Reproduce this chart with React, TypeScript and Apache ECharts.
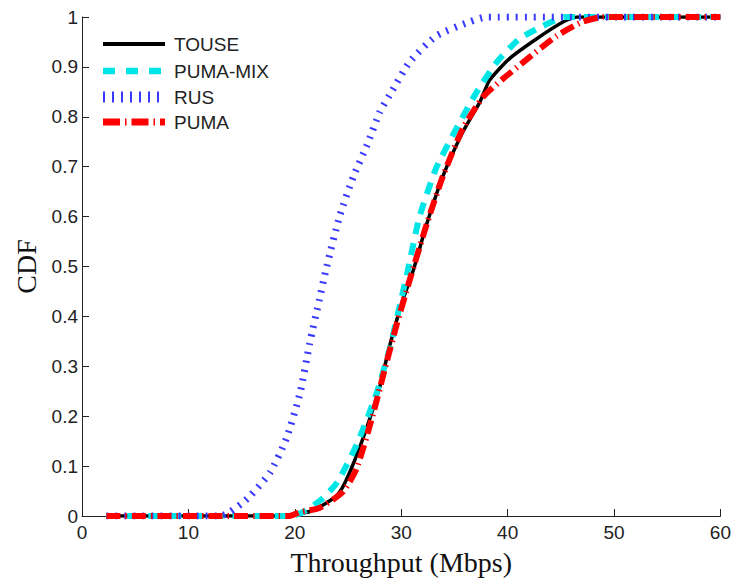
import React, { useEffect, useRef } from "react";
import * as echarts from "echarts";

const xTicks = [0, 10, 20, 30, 40, 50, 60];
const seriesNames = ["TOUSE", "PUMA-MIX", "RUS", "PUMA"];
const seriesColors = ["#000000", "#00e6e6", "#3a3aff", "#ff0000"];

const touse: [number, number][] = [
  [2.3, 0], [19, 0], [20.5, 0.005], [21.4, 0.009], [22.5, 0.02], [24.0, 0.042],
  [24.9, 0.075], [26.4, 0.155], [28.0, 0.26], [28.9, 0.34], [30.1, 0.43],
  [31.1, 0.49], [32.4, 0.585], [33.9, 0.68], [35.8, 0.77], [37.4, 0.83],
  [38.3, 0.873], [40.2, 0.917], [42.7, 0.956], [45.2, 0.99], [46.5, 1], [60, 1],
];

const pumaMix: [number, number][] = [
  [2.3, 0], [19.5, 0], [20.8, 0.008], [22.6, 0.035], [24.0, 0.068], [25.9, 0.147],
  [27.7, 0.247], [28.9, 0.334], [29.9, 0.425], [30.6, 0.49], [31.7, 0.598],
  [33.3, 0.698], [35.2, 0.777], [37.1, 0.85], [39.0, 0.91], [41.1, 0.956],
  [43.3, 0.982], [45.5, 1], [60, 1],
];

const rus: [number, number][] = [
  [2.3, 0], [13, 0], [13.9, 0.008], [15, 0.025], [15.8, 0.04], [17.7, 0.088],
  [19.2, 0.155], [20.5, 0.247], [21.4, 0.346], [22.3, 0.433], [23.0, 0.5],
  [24.2, 0.6], [25.5, 0.68], [26.8, 0.744], [28.0, 0.81], [28.9, 0.843],
  [30.8, 0.91], [33.3, 0.962], [36.4, 0.99], [38, 1], [60, 1],
];

const puma: [number, number][] = [
  [2.3, 0], [19.5, 0], [20.5, 0.008], [22.3, 0.016], [24.5, 0.048], [25.8, 0.095],
  [27.3, 0.2], [28.6, 0.306], [29.6, 0.386], [30.8, 0.473], [32.4, 0.585],
  [33.9, 0.68], [35.8, 0.777], [37.7, 0.84], [39.5, 0.875], [41.8, 0.915],
  [44.6, 0.962], [47, 0.99], [49, 1], [60, 1],
];

export default function App() {
  const ref = useRef<HTMLDivElement>(null);
  useEffect(() => {
    if (!ref.current) return;
    const chart = echarts.init(ref.current, null, { renderer: "svg" });
    const sans = "Liberation Sans, Arial, sans-serif";
    const serif = "Liberation Serif, Times New Roman, serif";

    const styles = [
      { width: 3.5, dash: null as number[] | null, legendWidth: 4 },
      { width: 6, dash: [12, 9], legendWidth: 6.5 },
      { width: 7, dash: [2, 7], legendWidth: 11 },
      { width: 6, dash: [14, 5, 1.5, 5], legendWidth: 7 },
    ];
    const legendRows = [44, 71, 97, 122];
    const legendX1 = 103;
    const legendX2 = 165;
    const legendTextX = 174;

    const graphic: any[] = [];
    seriesNames.forEach((name, i) => {
      const y = legendRows[i];
      const st = styles[i];
      graphic.push({
        type: "line",
        shape: { x1: legendX1, y1: y, x2: legendX2, y2: y },
        style: {
          stroke: seriesColors[i],
          lineWidth: st.legendWidth,
          lineDash: i === 3 ? [17, 5, 1.5, 5] : i === 1 ? [12, 11] : st.dash || undefined,
        },
      });
      graphic.push({
        type: "text",
        x: legendTextX,
        y,
        style: {
          text: name,
          font: `19px ${sans}`,
          fill: "#222",
          verticalAlign: "middle",
          align: "left",
        },
      });
    });

    const makeSeries = (name: string, data: [number, number][], i: number) => ({
      name,
      type: "line",
      data,
      showSymbol: false,
      symbol: "none",
      smooth: 0.2,
      lineStyle: {
        color: seriesColors[i],
        width: styles[i].width,
        type: styles[i].dash || "solid",
      },
      itemStyle: { color: seriesColors[i] },
    });

    chart.setOption({
      animation: false,
      backgroundColor: "#ffffff",
      grid: { left: 82, right: 12, top: 17, bottom: 60 },
      xAxis: {
        type: "value",
        min: 0,
        max: 60,
        interval: 10,
        name: "Throughput (Mbps)",
        nameLocation: "middle",
        nameGap: 32,
        nameTextStyle: { fontFamily: serif, fontSize: 28, color: "#111" },
        axisLine: { show: true, lineStyle: { color: "#222", width: 1 } },
        axisTick: { show: true, inside: true, length: 7, lineStyle: { color: "#222" } },
        axisLabel: {
          fontFamily: sans, fontSize: 19, color: "#222", margin: 7,
          formatter: (v: number) => (xTicks.includes(v) ? String(v) : ""),
        },
        splitLine: { show: false },
      },
      yAxis: {
        type: "value",
        min: 0,
        max: 1,
        interval: 0.1,
        name: "CDF",
        nameLocation: "middle",
        nameGap: 40,
        nameTextStyle: { fontFamily: serif, fontSize: 28, color: "#111" },
        axisLine: { show: true, lineStyle: { color: "#222", width: 1 } },
        axisTick: { show: true, inside: true, length: 7, lineStyle: { color: "#222" } },
        axisLabel: { fontFamily: sans, fontSize: 19, color: "#222", margin: 4 },
        splitLine: { show: false },
      },
      graphic,
      series: [
        makeSeries("TOUSE", touse, 0),
        makeSeries("PUMA-MIX", pumaMix, 1),
        makeSeries("RUS", rus, 2),
        makeSeries("PUMA", puma, 3),
      ],
    });
    return () => chart.dispose();
  }, []);
  return (
    <div
      ref={ref}
      style={{ position: "fixed", left: 0, top: 0, width: 734, height: 581, background: "#fff" }}
    />
  );
}
